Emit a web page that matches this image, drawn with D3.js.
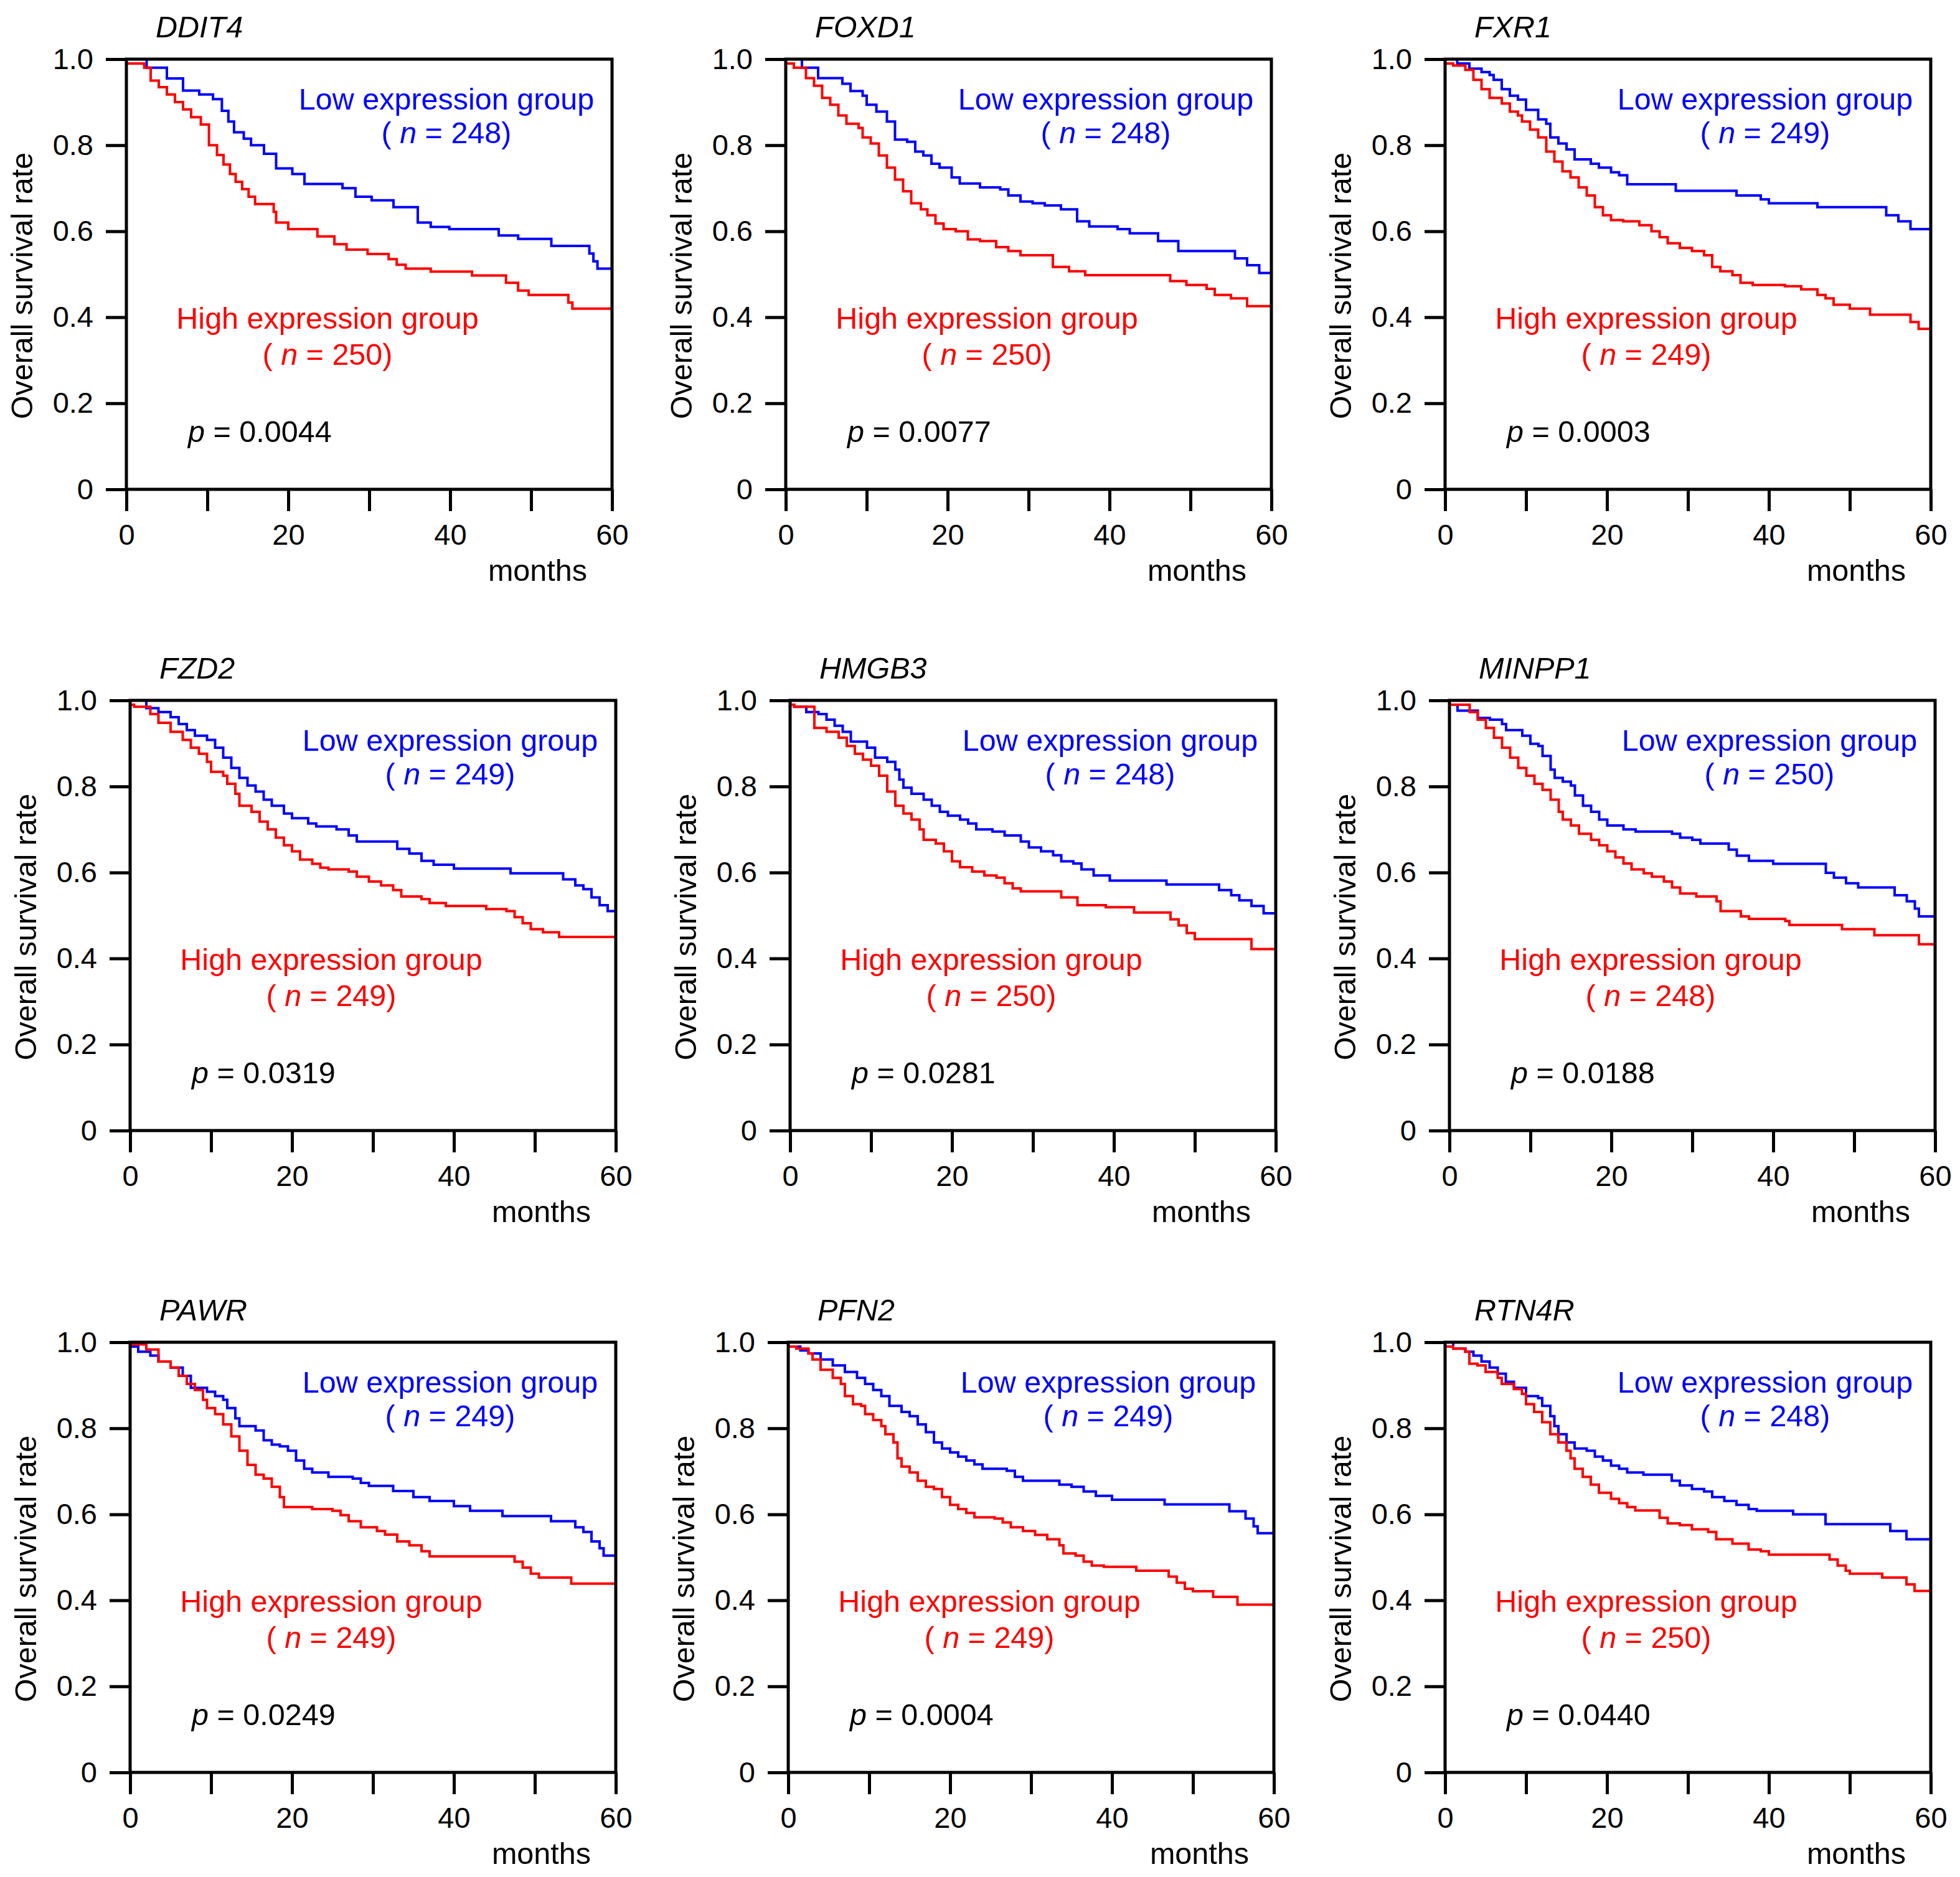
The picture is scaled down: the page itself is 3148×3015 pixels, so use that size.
<!DOCTYPE html>
<html>
<head>
<meta charset="utf-8">
<script src="https://cdn.jsdelivr.net/npm/d3@7/dist/d3.min.js"></script>
<style>
  html, body { margin: 0; padding: 0; background: #ffffff; }
  svg { display: block; }
  text { font-family: "Liberation Sans", Arial, Helvetica, sans-serif; }
</style>
</head>
<body>
<svg id="chart" width="3148" height="3015"></svg>
<script>
// ---------------- DATA ----------------
const genes   = ["DDIT4", "FOXD1", "FXR1", "FZD2", "HMGB3", "MINPP1", "PAWR", "PFN2", "RTN4R"];
const lowN    = [248, 248, 249, 249, 248, 250, 249, 249, 248];
const highN   = [250, 250, 249, 249, 250, 248, 249, 249, 250];
const pValues = ["0.0044", "0.0077", "0.0003", "0.0319", "0.0281", "0.0188", "0.0249", "0.0004", "0.0440"];

const xTicks = [0, 10, 20, 30, 40, 50, 60];
const xTickLabels = {0: "0", 20: "20", 40: "40", 60: "60"};
const yTicks = [0, 0.2, 0.4, 0.6, 0.8, 1.0];
const yTickLabels = ["0", "0.2", "0.4", "0.6", "0.8", "1.0"];

// Kaplan-Meier step points [month, survival] (value holds from that month on)
const ddit4Low = [[0,1.0],[2.5,0.98],[5,0.955],[7,0.927],[9,0.918],[10.7,0.907],[11.8,0.88],[12.6,0.855],[13.3,0.83],[14.5,0.815],[15.4,0.80],[17,0.78],[18.5,0.746],[20.5,0.733],[22,0.71],[26.7,0.70],[28.3,0.68],[30.3,0.672],[33,0.656],[36,0.62],[37.6,0.61],[39.9,0.605],[46,0.59],[48.4,0.582],[52.5,0.566],[57.2,0.548],[57.7,0.53],[58.2,0.513],[60,0.513]];
const ddit4High = [[0,0.99],[2.2,0.98],[3,0.95],[4,0.935],[5,0.918],[6,0.9],[7,0.883],[8,0.865],[9.2,0.848],[10.2,0.80],[11.2,0.777],[12,0.755],[12.8,0.733],[13.5,0.715],[14.3,0.698],[15.1,0.68],[15.9,0.663],[18.2,0.645],[18.5,0.62],[20,0.605],[23.6,0.588],[25.7,0.57],[27.2,0.557],[29.8,0.547],[32.4,0.535],[33.4,0.522],[34.5,0.513],[37.6,0.506],[42.7,0.497],[46.9,0.48],[48.4,0.462],[49.7,0.452],[54.6,0.434],[55.1,0.42],[60,0.42]];

const foxd1Low = [[0,1.0],[2,0.98],[4,0.956],[7,0.943],[8,0.926],[9.5,0.915],[10,0.894],[11.2,0.878],[12.5,0.855],[13.5,0.813],[15,0.808],[16,0.785],[17,0.776],[18,0.757],[19,0.748],[20.5,0.725],[21.5,0.711],[24,0.702],[26.5,0.697],[27.5,0.683],[29,0.669],[30.5,0.665],[32,0.66],[34,0.651],[36,0.623],[37.5,0.611],[41,0.605],[42.5,0.595],[46,0.577],[48.5,0.554],[55.5,0.537],[57,0.521],[58.5,0.503],[60,0.503]];
const foxd1High = [[0,0.99],[1,0.98],[2.5,0.956],[3.5,0.938],[4.5,0.91],[5.5,0.894],[6.5,0.869],[7.5,0.85],[9,0.84],[9.5,0.818],[10.5,0.804],[11.5,0.776],[12.5,0.748],[13.5,0.72],[14.5,0.693],[15.5,0.665],[16.7,0.651],[17.5,0.637],[18.5,0.618],[19.5,0.605],[21,0.60],[22.5,0.581],[24,0.577],[26,0.563],[27.5,0.554],[29,0.544],[33,0.517],[35,0.507],[37,0.498],[47.5,0.484],[49.5,0.475],[52,0.466],[53,0.452],[55,0.444],[57,0.426],[60,0.426]];

const fxr1Low = [[0,1.0],[1.5,0.99],[3,0.978],[4.5,0.97],[5.5,0.963],[6,0.952],[7,0.93],[8,0.915],[9,0.906],[10,0.882],[11.5,0.86],[12.5,0.85],[13,0.818],[14,0.804],[15,0.79],[16,0.767],[18,0.757],[19,0.748],[20.5,0.737],[21.5,0.73],[22.5,0.709],[28.5,0.694],[36,0.683],[39,0.674],[40,0.665],[46,0.656],[54.5,0.637],[56,0.623],[57.5,0.605],[60,0.605]];
const fxr1High = [[0,0.99],[1,0.985],[2.5,0.975],[3.5,0.952],[4.5,0.93],[5.5,0.91],[7,0.897],[8,0.878],[9,0.869],[9.5,0.855],[10.5,0.836],[11.5,0.818],[12.5,0.785],[13.5,0.762],[14.5,0.739],[15.5,0.725],[16.5,0.702],[17.5,0.683],[18.5,0.656],[19.5,0.637],[20.5,0.626],[22,0.623],[24,0.614],[25.5,0.60],[26.5,0.586],[27.5,0.572],[29,0.561],[30.5,0.554],[32,0.544],[33,0.517],[34,0.507],[35.5,0.498],[36.5,0.48],[38,0.475],[42,0.472],[44,0.465],[46,0.452],[47,0.444],[48,0.429],[50,0.42],[52.5,0.406],[57.5,0.389],[58.5,0.373],[60,0.373]];

const fzd2Low = [[0,1.0],[2,0.982],[3.5,0.973],[5,0.961],[6,0.945],[7,0.931],[8,0.918],[9.5,0.908],[10.5,0.89],[11.5,0.867],[12.5,0.843],[13.5,0.82],[14.5,0.802],[15.5,0.788],[16.5,0.769],[17.5,0.755],[19,0.737],[20,0.726],[22,0.714],[23,0.707],[25.5,0.70],[27,0.686],[28,0.672],[33,0.655],[34.5,0.644],[36,0.627],[37.5,0.618],[40,0.609],[47,0.598],[53.5,0.584],[55,0.57],[56,0.561],[57,0.542],[58,0.524],[59,0.51],[60,0.51]];
const fzd2High = [[0,0.99],[0.5,0.985],[2.5,0.968],[3.5,0.948],[5,0.927],[6.5,0.908],[7.5,0.89],[8.5,0.876],[9.5,0.857],[10,0.834],[11.5,0.825],[12,0.806],[13,0.783],[13.5,0.755],[15,0.741],[16,0.718],[17,0.70],[18,0.681],[19,0.663],[20,0.649],[21,0.63],[22.5,0.62],[23.5,0.611],[24.5,0.607],[27,0.602],[28,0.59],[29.5,0.579],[31,0.57],[32.5,0.559],[33.5,0.544],[36,0.538],[37,0.529],[39,0.522],[44,0.515],[46.5,0.51],[47.5,0.496],[48.5,0.482],[49.5,0.468],[51,0.461],[53,0.45],[60,0.45]];

const hmgb3Low = [[0,0.99],[0.5,0.985],[2,0.973],[3.5,0.968],[4.5,0.955],[5.5,0.941],[6.5,0.927],[7.5,0.904],[9.5,0.89],[10.5,0.867],[12,0.857],[13,0.839],[13.5,0.816],[14,0.797],[15,0.783],[16.5,0.769],[17.5,0.755],[18.5,0.741],[19.5,0.732],[21,0.723],[22,0.714],[23,0.70],[25,0.695],[26.5,0.686],[28.5,0.672],[29.5,0.658],[31,0.649],[32.5,0.64],[33.5,0.626],[35,0.621],[36,0.607],[37.5,0.593],[39.5,0.581],[46.5,0.572],[53,0.559],[54.5,0.547],[55.5,0.535],[57,0.522],[58.5,0.505],[60,0.505]];
const hmgb3High = [[0,0.99],[0.5,0.985],[3,0.936],[4.5,0.927],[6,0.913],[7,0.894],[8,0.876],[9,0.862],[10,0.848],[11,0.825],[12,0.788],[13,0.755],[14,0.737],[15,0.723],[16,0.70],[16.5,0.676],[18,0.667],[19,0.649],[20,0.626],[21,0.612],[22.5,0.602],[24,0.593],[25.5,0.588],[26.5,0.575],[27.5,0.563],[28.5,0.556],[33.5,0.542],[35.5,0.524],[39,0.519],[42.5,0.507],[47,0.491],[48,0.477],[49,0.459],[50,0.445],[57,0.422],[60,0.422]];

const minpp1Low = [[0,0.99],[1,0.976],[3.5,0.959],[5,0.955],[6.5,0.945],[7,0.931],[9,0.918],[10,0.899],[11,0.894],[11.5,0.871],[12.5,0.839],[13,0.82],[14,0.811],[15,0.802],[15.5,0.779],[16.5,0.755],[17.5,0.741],[18.5,0.723],[19.5,0.709],[21.5,0.70],[23,0.695],[27.5,0.69],[28.5,0.681],[30,0.676],[31,0.667],[34.5,0.653],[35.5,0.639],[37,0.627],[40,0.62],[46.5,0.599],[47.5,0.588],[49,0.575],[50.5,0.565],[55,0.547],[56.5,0.533],[57.5,0.516],[58,0.498],[60,0.498]];
const minpp1High = [[0,0.99],[2.5,0.973],[3.5,0.955],[4.5,0.936],[5.5,0.913],[6.5,0.89],[7.5,0.867],[8.5,0.843],[9.5,0.825],[10.5,0.806],[11.5,0.792],[12.5,0.769],[13.5,0.741],[14,0.723],[15,0.709],[16,0.69],[17.5,0.676],[18.5,0.663],[19.5,0.649],[20.5,0.635],[21.5,0.621],[22.5,0.607],[24,0.598],[25,0.59],[26.5,0.579],[27.5,0.565],[28.5,0.551],[30.5,0.544],[33,0.533],[33.5,0.51],[36,0.498],[37,0.492],[41.5,0.487],[42,0.478],[48.5,0.468],[52.5,0.454],[58,0.433],[60,0.433]];

const pawrLow = [[0,0.99],[1,0.978],[2.5,0.969],[3.5,0.955],[5,0.941],[6.5,0.922],[7.5,0.894],[9.5,0.885],[10.5,0.875],[11.5,0.866],[12,0.847],[13,0.823],[13.5,0.805],[15.5,0.795],[16.5,0.772],[17.5,0.762],[18.5,0.758],[19.5,0.748],[20.5,0.725],[21.5,0.706],[22.5,0.697],[24.5,0.687],[27.5,0.683],[28.5,0.673],[29.5,0.666],[32.5,0.654],[35,0.64],[37,0.631],[40,0.619],[42,0.608],[46,0.596],[52,0.584],[55,0.57],[56,0.559],[57,0.537],[58,0.521],[58.5,0.504],[60,0.504]];
const pawrHigh = [[0,0.995],[2,0.983],[3.5,0.955],[5,0.941],[6,0.922],[7,0.903],[8,0.889],[9,0.866],[9.5,0.847],[10.5,0.833],[11.5,0.809],[12.5,0.781],[13.5,0.748],[14.5,0.715],[15.5,0.692],[16.5,0.683],[17.5,0.664],[18.5,0.64],[19,0.617],[22.5,0.612],[25,0.608],[26,0.598],[27,0.584],[28.5,0.57],[30.5,0.561],[31.5,0.553],[33,0.537],[34.5,0.528],[36,0.514],[37,0.502],[47.5,0.49],[48.5,0.476],[49.5,0.462],[50.5,0.453],[54.5,0.439],[60,0.439]];

const pfn2Low = [[0,0.99],[1.5,0.981],[2.5,0.974],[4,0.96],[5.5,0.946],[7,0.931],[8.5,0.917],[9.5,0.903],[10.5,0.889],[11.5,0.875],[12.5,0.852],[14,0.838],[15,0.828],[16,0.809],[17,0.791],[18,0.767],[19,0.753],[20,0.744],[21,0.734],[22,0.725],[23,0.716],[24,0.706],[27,0.701],[28,0.687],[29,0.678],[33.5,0.669],[35,0.664],[36.5,0.653],[38,0.643],[40,0.634],[46.5,0.623],[54.5,0.607],[56.5,0.59],[57.5,0.572],[58,0.556],[60,0.556]];
const pfn2High = [[0,0.99],[1,0.985],[2.5,0.974],[3,0.96],[4,0.936],[5.5,0.917],[6.5,0.903],[7,0.875],[8,0.856],[9,0.852],[9.5,0.833],[10.5,0.819],[11.5,0.805],[12,0.786],[13,0.767],[13.5,0.73],[14,0.711],[15,0.697],[16,0.678],[17,0.664],[18,0.659],[19,0.64],[20,0.622],[21,0.612],[22,0.603],[23,0.593],[25.5,0.59],[26.5,0.581],[27.5,0.57],[29,0.561],[30.5,0.552],[32,0.542],[33.5,0.528],[34,0.509],[35.5,0.504],[36.5,0.49],[37.5,0.481],[39,0.478],[43,0.469],[47,0.455],[48,0.441],[49,0.427],[50,0.421],[52.5,0.408],[55.5,0.39],[60,0.39]];

const rtn4rLow = [[0,1.0],[1,0.985],[2.5,0.978],[3.5,0.969],[4.5,0.955],[5.5,0.941],[6.5,0.927],[7.5,0.908],[8.5,0.894],[10,0.875],[11.5,0.87],[12,0.852],[13,0.828],[13.5,0.805],[14,0.786],[15,0.767],[16,0.753],[17.5,0.748],[18.5,0.734],[19.5,0.725],[20.5,0.713],[21.5,0.706],[22.5,0.697],[24.5,0.692],[28,0.678],[29,0.667],[30.5,0.659],[32,0.653],[33,0.64],[34.5,0.631],[36,0.622],[37.5,0.612],[38.5,0.608],[43,0.60],[47,0.577],[55,0.561],[57,0.542],[60,0.542]];
const rtn4rHigh = [[0,0.99],[1,0.985],[2.5,0.978],[3,0.95],[4,0.946],[5,0.931],[6.5,0.917],[7,0.903],[8.5,0.891],[9.5,0.88],[10,0.856],[11,0.838],[12,0.814],[13,0.786],[14,0.767],[15,0.748],[15.5,0.73],[16,0.706],[17,0.687],[18,0.669],[19,0.65],[20.5,0.636],[21.5,0.626],[22.5,0.617],[23.5,0.609],[26.5,0.592],[27.5,0.579],[29,0.575],[30.5,0.565],[32.5,0.559],[33.5,0.542],[35.5,0.532],[37.5,0.518],[39,0.514],[40,0.506],[47.5,0.495],[48.5,0.481],[49.5,0.469],[50,0.462],[54,0.453],[57,0.437],[58,0.422],[60,0.422]];

const lowSeries  = [ddit4Low, foxd1Low, fxr1Low, fzd2Low, hmgb3Low, minpp1Low, pawrLow, pfn2Low, rtn4rLow];
const highSeries = [ddit4High, foxd1High, fxr1High, fzd2High, hmgb3High, minpp1High, pawrHigh, pfn2High, rtn4rHigh];

// ---------------- LAYOUT ----------------
const rowTops  = [95, 1125, 2156];
const colLefts = [[203, 1262, 2321], [209, 1269, 2328], [209, 1266, 2321]];
const plotW = 780, plotH = 691;
const BLUE = "#0000ff", RED = "#ff0000";
const FS = 48.5, TICK_FS = 47;

const svg = d3.select("#chart");
svg.append("rect").attr("width", 3148).attr("height", 3015).attr("fill", "#fff");

genes.forEach((gene, i) => {
  const r = Math.floor(i / 3), c = i % 3;
  const g = svg.append("g").attr("transform", `translate(${colLefts[r][c]},${rowTops[r]})`);

  const x = d3.scaleLinear().domain([0, 60]).range([0, plotW]);
  const y = d3.scaleLinear().domain([0, 1]).range([plotH, 0]);

  // Y axis
  const yAxis = d3.axisLeft(y).tickValues(yTicks)
    .tickFormat((d, k) => yTickLabels[k]).tickSize(33).tickSizeOuter(0).tickPadding(20);
  const ya = g.append("g").call(yAxis);
  ya.select(".domain").remove();
  ya.selectAll("line").attr("stroke", "#000").attr("stroke-width", 5);
  ya.selectAll("text").attr("font-size", TICK_FS).attr("fill", "#000")
    .attr("font-family", "Liberation Sans, Arial, sans-serif");

  // X axis
  const xAxis = d3.axisBottom(x).tickValues(xTicks)
    .tickFormat(d => xTickLabels[d] !== undefined ? xTickLabels[d] : "")
    .tickSize(35).tickSizeOuter(0).tickPadding(21);
  const xa = g.append("g").attr("transform", `translate(0,${plotH})`).call(xAxis);
  xa.select(".domain").remove();
  xa.selectAll("line").attr("stroke", "#000").attr("stroke-width", 5);
  xa.selectAll("text").attr("font-size", TICK_FS).attr("fill", "#000")
    .attr("font-family", "Liberation Sans, Arial, sans-serif");

  // Curves
  const line = d3.line().x(d => x(d[0])).y(d => y(d[1])).curve(d3.curveStepAfter);
  g.append("path").datum(lowSeries[i]).attr("d", line)
    .attr("fill", "none").attr("stroke", BLUE).attr("stroke-width", 4);
  g.append("path").datum(highSeries[i]).attr("d", line)
    .attr("fill", "none").attr("stroke", RED).attr("stroke-width", 4);

  // Frame
  g.append("rect").attr("x", 0).attr("y", 0).attr("width", plotW).attr("height", plotH)
    .attr("fill", "none").attr("stroke", "#000").attr("stroke-width", 5);

  // Title
  g.append("text").attr("x", 47).attr("y", -35).attr("font-size", FS)
    .attr("font-style", "italic").attr("fill", "#000").text(gene);

  // Y label
  g.append("text").attr("transform", `translate(-151,${364}) rotate(-90)`)
    .attr("text-anchor", "middle").attr("font-size", FS).attr("fill", "#000")
    .text("Overall survival rate");

  // months
  g.append("text").attr("x", plotW - 40).attr("y", plotH + 147).attr("text-anchor", "end")
    .attr("font-size", FS).attr("fill", "#000").text("months");

  // Legends
  const lowX = 514, highX = 323;
  g.append("text").attr("x", lowX).attr("y", 81).attr("text-anchor", "middle")
    .attr("font-size", FS).attr("fill", BLUE).text("Low expression group");
  const l2 = g.append("text").attr("x", lowX).attr("y", 135).attr("text-anchor", "middle")
    .attr("font-size", FS).attr("fill", BLUE).attr("xml:space", "preserve");
  l2.append("tspan").text("( ");
  l2.append("tspan").attr("font-style", "italic").text("n");
  l2.append("tspan").text(" = " + lowN[i] + ")");

  g.append("text").attr("x", highX).attr("y", 433).attr("text-anchor", "middle")
    .attr("font-size", FS).attr("fill", RED).text("High expression group");
  const h2 = g.append("text").attr("x", highX).attr("y", 491).attr("text-anchor", "middle")
    .attr("font-size", FS).attr("fill", RED).attr("xml:space", "preserve");
  h2.append("tspan").text("( ");
  h2.append("tspan").attr("font-style", "italic").text("n");
  h2.append("tspan").text(" = " + highN[i] + ")");

  // p value
  const pt = g.append("text").attr("x", 99).attr("y", 615).attr("font-size", FS)
    .attr("fill", "#000").attr("xml:space", "preserve");
  pt.append("tspan").attr("font-style", "italic").text("p");
  pt.append("tspan").text(" = " + pValues[i]);
});
</script>
</body>
</html>
